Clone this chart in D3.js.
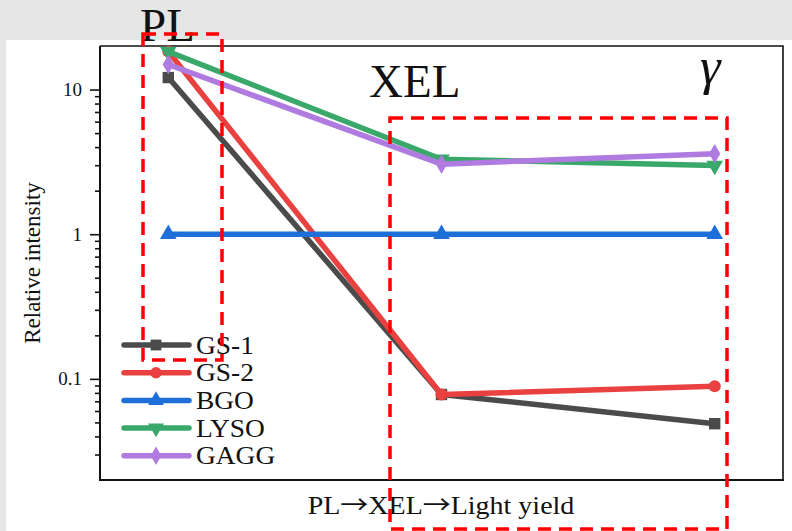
<!DOCTYPE html>
<html>
<head>
<meta charset="utf-8">
<script src="https://cdn.jsdelivr.net/npm/d3@7"></script>
<style>
  html, body { margin: 0; padding: 0; background: #e6e6e6; }
  svg { display: block; }
</style>
</head>
<body>
<svg id="chart" width="792" height="531"></svg>
<script>
// Stages along the x axis
const stages = ["PL", "XEL", "Light yield"];

// Relative intensity per sample at each stage
const gs1  = [12.1, 0.078, 0.049];
const gs2  = [18.3, 0.078, 0.089];
const bgo  = [1, 1, 1];
const lyso = [18.3, 3.3, 2.98];
const gagg = [14.9, 3.05, 3.6];

const seriesNames = ["GS-1", "GS-2", "BGO", "LYSO", "GAGG"];
const seriesValues = [gs1, gs2, bgo, lyso, gagg];
const seriesColors = ["#4b4b4b", "#e8413f", "#1f6fd8", "#3aa86a", "#b07be0"];
const seriesSymbols = ["square", "circle", "triangle", "triangleDown", "diamond"];

const majorTicks = [0.1, 1, 10];
const minorTicks = [0.03, 0.04, 0.05, 0.06, 0.07, 0.08, 0.09,
                    0.2, 0.3, 0.4, 0.5, 0.6, 0.7, 0.8, 0.9,
                    2, 3, 4, 5, 6, 7, 8, 9];

const SERIF = "'Liberation Serif', 'Times New Roman', serif";
const INK = "#111";

const svg = d3.select("#chart");

// white page panel
svg.append("rect").attr("x", 6).attr("y", 40).attr("width", 786).attr("height", 491).attr("fill", "#fff");

const plot = { left: 100, right: 783, top: 46, bottom: 480 };

const x = d3.scalePoint().domain(stages).range([plot.left, plot.right]).padding(0.25);
const y = d3.scaleLog().domain([0.02, 20]).range([plot.bottom, plot.top]);

// frame: top and right edges
svg.append("path")
  .attr("d", `M${plot.left},${plot.top}H${plot.right}V${plot.bottom}`)
  .attr("fill", "none").attr("stroke", INK).attr("stroke-width", 1.6);

// bottom axis line
svg.append("line")
  .attr("x1", plot.left - 1).attr("x2", plot.right + 1)
  .attr("y1", plot.bottom).attr("y2", plot.bottom)
  .attr("stroke", INK).attr("stroke-width", 2);

// y axis: minor ticks
const yMinor = svg.append("g").attr("transform", `translate(${plot.left},0)`)
  .call(d3.axisLeft(y).tickValues(minorTicks).tickSize(5).tickFormat(""));
yMinor.select(".domain").remove();
yMinor.selectAll("line").attr("stroke", INK).attr("stroke-width", 1.6);

// y axis: major ticks and labels
const yMajor = svg.append("g").attr("transform", `translate(${plot.left},0)`)
  .call(d3.axisLeft(y).tickValues(majorTicks).tickSize(10).tickPadding(8)
    .tickFormat(d => d3.format("~g")(d)));
yMajor.attr("font-family", SERIF);
yMajor.select(".domain").attr("stroke", INK).attr("stroke-width", 2)
  .attr("d", `M0,${plot.top}V${plot.bottom + 1}`);
yMajor.selectAll("line").attr("stroke", INK).attr("stroke-width", 1.6);
yMajor.selectAll("text").attr("font-size", 19).attr("font-family", SERIF).attr("fill", INK);

// axis titles
svg.append("text")
  .attr("transform", `translate(40,263) rotate(-90)`)
  .attr("text-anchor", "middle").attr("font-size", 23)
  .attr("font-family", SERIF).attr("fill", INK)
  .text("Relative intensity");

const xTitle = svg.append("text")
  .attr("transform", "translate(441,514) scale(1.12,1)")
  .attr("text-anchor", "middle").attr("font-size", 25)
  .attr("font-family", SERIF).attr("fill", INK);
const ARROW_FONT = "'Noto Sans CJK SC', 'DejaVu Sans', sans-serif";
xTitle.append("tspan").text("PL");
xTitle.append("tspan").attr("font-family", ARROW_FONT).attr("font-size", 25).text("\u2192");
xTitle.append("tspan").text("XEL");
xTitle.append("tspan").attr("font-family", ARROW_FONT).attr("font-size", 25).text("\u2192");
xTitle.append("tspan").text("Light yield");

// marker factory
function symbolPath(kind, size) {
  if (kind === "square") return d3.symbol(d3.symbolSquare, size)();
  if (kind === "circle") return d3.symbol(d3.symbolCircle, size)();
  if (kind === "diamond") return d3.symbol(d3.symbolDiamond, size)();
  return d3.symbol(d3.symbolTriangle, size)();
}
const symbolSizes = { square: 130, circle: 115, triangle: 120, triangleDown: 120, diamond: 110 };

const line = d3.line().x((d, i) => x(stages[i])).y(d => y(d));

// data series
seriesValues.forEach((vals, k) => {
  const g = svg.append("g");
  g.append("path").datum(vals)
    .attr("d", line)
    .attr("fill", "none")
    .attr("stroke", seriesColors[k])
    .attr("stroke-width", 5.5)
    .attr("stroke-linejoin", "round");
  g.selectAll("path.m").data(vals).join("path")
    .attr("class", "m")
    .attr("d", symbolPath(seriesSymbols[k], symbolSizes[seriesSymbols[k]]))
    .attr("transform", (d, i) => `translate(${x(stages[i])},${y(d)})` + (seriesSymbols[k] === "triangleDown" ? " rotate(180)" : ""))
    .attr("fill", seriesColors[k]);
});

// legend
const legend = svg.append("g");
seriesNames.forEach((name, k) => {
  const ly = 345 + k * 27.7;
  legend.append("line")
    .attr("x1", 124).attr("x2", 189).attr("y1", ly).attr("y2", ly)
    .attr("stroke", seriesColors[k]).attr("stroke-width", 5.5).attr("stroke-linecap", "round");
  legend.append("path")
    .attr("d", symbolPath(seriesSymbols[k], symbolSizes[seriesSymbols[k]] * 0.9))
    .attr("transform", `translate(156,${ly})` + (seriesSymbols[k] === "triangleDown" ? " rotate(180)" : ""))
    .attr("fill", seriesColors[k]);
  legend.append("text")
    .attr("transform", `translate(196,${ly + 8.5}) scale(1.12,1)`)
    .attr("font-size", 24.5)
    .attr("font-family", SERIF).attr("fill", INK)
    .text(name);
});

// stage annotations
svg.append("text").attr("x", 140).attr("y", 41).attr("font-size", 47)
  .attr("font-family", SERIF).attr("fill", INK).text("PL");
svg.append("text").attr("x", 369).attr("y", 97).attr("font-size", 47)
  .attr("font-family", SERIF).attr("fill", INK).text("XEL");
svg.append("text").attr("x", 700).attr("y", 84).attr("font-size", 52)
  .attr("font-family", SERIF).attr("font-style", "italic").attr("fill", INK).text("\u03b3");

// highlight boxes
const dash = "13,8";
svg.append("rect")
  .attr("x", 143).attr("y", 34).attr("width", 79).attr("height", 326)
  .attr("fill", "none").attr("stroke", "#ff0000").attr("stroke-width", 3.5)
  .attr("stroke-dasharray", dash);
svg.append("rect")
  .attr("x", 390).attr("y", 118).attr("width", 337).attr("height", 411)
  .attr("fill", "none").attr("stroke", "#ff0000").attr("stroke-width", 3.5)
  .attr("stroke-dasharray", dash);
</script>
</body>
</html>
